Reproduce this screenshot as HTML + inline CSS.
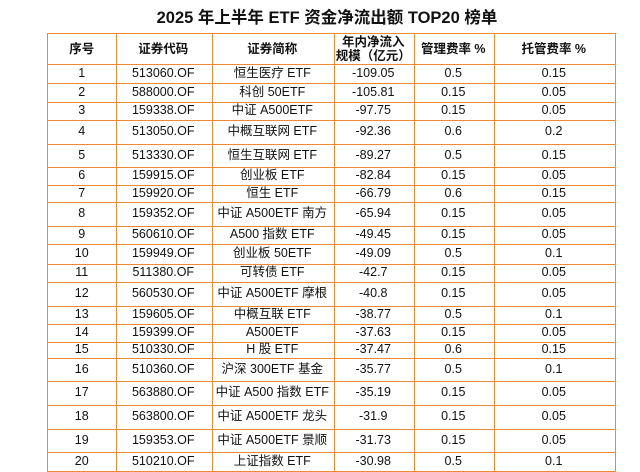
<!DOCTYPE html>
<html><head><meta charset="utf-8"><style>
body{margin:0;width:640px;height:472px;background:#fff;position:relative;overflow:hidden;font-family:"Liberation Sans","Noto Sans CJK SC",sans-serif;color:#111}
#title{position:absolute;left:0;width:654px;top:4px;text-align:center;font-size:16.5px;font-weight:bold}
.c{position:absolute;box-sizing:border-box;border-right:1.5px solid #ef8a34;border-bottom:1.5px solid #ef8a34;display:flex;align-items:center;justify-content:center;font-size:12.5px;text-align:center;line-height:14px}
.h{font-weight:bold;font-size:12.5px}
#tbl{position:absolute;left:0;top:0}
</style></head><body>
<div id="title">2025 年上半年 ETF 资金净流出额 TOP20 榜单</div>
<div id="tbl"></div>
<script>
const headers=["序号","证券代码","证券简称","年内净流入<br>规模（亿元）","管理费率 %","托管费率 %"];
const codes=["513060.OF","588000.OF","159338.OF","513050.OF","513330.OF","159915.OF","159920.OF","159352.OF","560610.OF","159949.OF","511380.OF","560530.OF","159605.OF","159399.OF","510330.OF","510360.OF","563880.OF","563800.OF","159353.OF","510210.OF"];
const names=["恒生医疗 ETF","科创 50ETF","中证 A500ETF","中概互联网 ETF","恒生互联网 ETF","创业板 ETF","恒生 ETF","中证 A500ETF 南方","A500 指数 ETF","创业板 50ETF","可转债 ETF","中证 A500ETF 摩根","中概互联 ETF","A500ETF","H 股 ETF","沪深 300ETF 基金","中证 A500 指数 ETF","中证 A500ETF 龙头","中证 A500ETF 景顺","上证指数 ETF"];
const flows=["-109.05","-105.81","-97.75","-92.36","-89.27","-82.84","-66.79","-65.94","-49.45","-49.09","-42.7","-40.8","-38.77","-37.63","-37.47","-35.77","-35.19","-31.9","-31.73","-30.98"];
const mgmt=["0.5","0.15","0.15","0.6","0.5","0.15","0.6","0.15","0.15","0.5","0.15","0.15","0.5","0.15","0.6","0.5","0.15","0.15","0.15","0.5"];
const cust=["0.15","0.05","0.05","0.2","0.15","0.05","0.15","0.05","0.05","0.1","0.05","0.05","0.1","0.05","0.15","0.1","0.05","0.05","0.05","0.1"];
const colX=[47,115,211,333,413,493,614];
const rowY=[33,63,82,101,119,143,166,184,201,225,243,263,281,305,323,341,357,380,404,428,451,470];
const tbl=document.getElementById('tbl');
function cell(r,c,html,hdr){
  const d=document.createElement('div');
  d.className='c'+(hdr?' h':'');
  d.style.left=colX[c]+'px';d.style.top=rowY[r]+'px';
  d.style.width=(colX[c+1]-colX[c]+1.5)+'px';d.style.height=(rowY[r+1]-rowY[r]+1.5)+'px';
  if(c===0)d.style.borderLeft='1.5px solid #ef8a34';
  if(r===0)d.style.borderTop='1.5px solid #ef8a34';
  d.innerHTML=html;
  
  
  tbl.appendChild(d);
}
headers.forEach((h,i)=>cell(0,i,h,true));
for(let i=0;i<codes.length;i++){
  const vals=[String(i+1),codes[i],names[i],flows[i],mgmt[i],cust[i]];
  vals.forEach((v,c)=>cell(i+1,c,v,false));
}
</script>
</body></html>
